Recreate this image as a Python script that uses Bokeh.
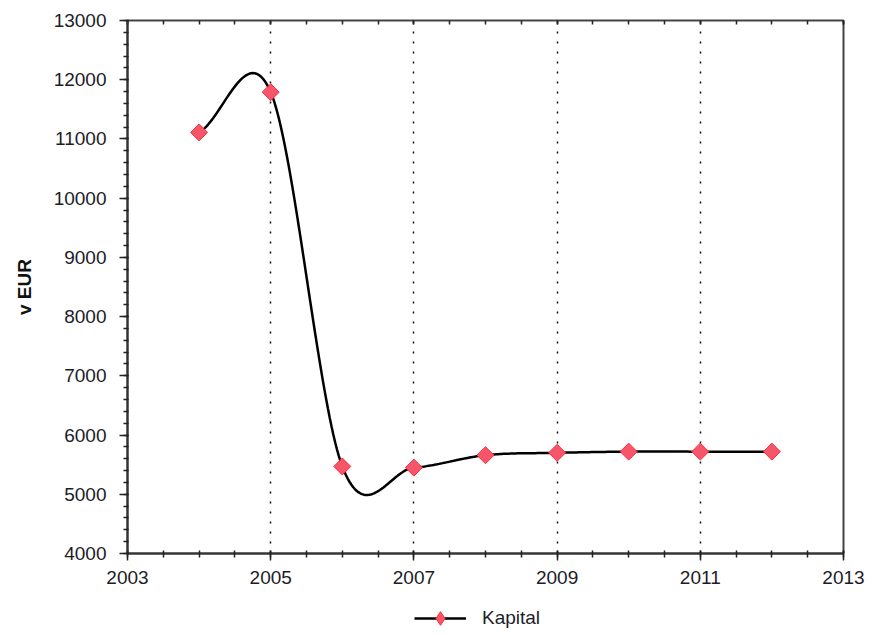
import numpy as np
from bokeh.plotting import figure
from bokeh.layouts import column
from bokeh.models import (FixedTicker, SingleIntervalTicker, LinearAxis, Legend, LegendItem,
                          Range1d, ColumnDataSource)
from bokeh.embed import file_html
from bokeh.resources import INLINE

# ---- data ----
years = [2004, 2005, 2006, 2007, 2008, 2009, 2010, 2011, 2012]
kapital = [11110, 11790, 5470, 5450, 5660, 5700, 5720, 5720, 5720]
x_tick_labels = [2003, 2005, 2007, 2009, 2011, 2013]
series_name = "Kapital"
y_label = "v EUR"


def catmull_rom(xs, ys, n=40):
    xs = np.asarray(xs, float)
    ys = np.asarray(ys, float)
    m = np.zeros_like(ys)
    m[1:-1] = (ys[2:] - ys[:-2]) / 2.0
    m[0] = ys[1] - ys[0]
    m[-1] = ys[-1] - ys[-2]
    out_x, out_y = [], []
    for i in range(len(xs) - 1):
        t = np.linspace(0, 1, n, endpoint=(i == len(xs) - 2))
        h00 = 2 * t**3 - 3 * t**2 + 1
        h10 = t**3 - 2 * t**2 + t
        h01 = -2 * t**3 + 3 * t**2
        h11 = t**3 - t**2
        out_x.extend(xs[i] + t * (xs[i + 1] - xs[i]))
        out_y.extend(h00 * ys[i] + h10 * m[i] + h01 * ys[i + 1] + h11 * m[i + 1])
    return out_x, out_y


cx, cy = catmull_rom(years, kapital)

FONT = "Liberation Sans"
TXT = "#1c1c28"
LINE_W = 2.5
MK_FILL = "#f5566a"
MK_LINE = "#ff2a3c"

p = figure(width=866, height=594, output_backend="svg", toolbar_location=None,
           x_range=Range1d(2003, 2013), y_range=Range1d(4000, 13000),
           min_border_left=127, min_border_right=23, min_border_top=20, min_border_bottom=41,
           background_fill_color="white", border_fill_color="white")

p.outline_line_color = "#444444"
p.outline_line_width = 2

minor_x = list(np.arange(2003, 2013.01, 0.5))
xt = FixedTicker(ticks=x_tick_labels, minor_ticks=minor_x)
yt = SingleIntervalTicker(interval=1000, num_minor_ticks=5)

xa = p.xaxis[0]
xa.ticker = xt
xa.axis_line_color = "#333333"
xa.axis_line_width = 2
xa.major_tick_line_color = "#222222"
xa.minor_tick_line_color = "#222222"
xa.major_tick_line_width = 1.5
xa.minor_tick_line_width = 1.5
xa.major_tick_in = 3
xa.major_tick_out = 7
xa.minor_tick_in = 3
xa.minor_tick_out = 4
xa.major_label_standoff = 10
xa.major_label_text_font = FONT
xa.major_label_text_font_size = "19px"
xa.major_label_text_color = TXT

ya = p.yaxis[0]
ya.ticker = yt
ya.axis_line_color = "#333333"
ya.axis_line_width = 2
ya.major_tick_line_color = "#222222"
ya.minor_tick_line_color = "#222222"
ya.major_tick_line_width = 1.5
ya.minor_tick_line_width = 1.5
ya.major_tick_in = 1
ya.major_tick_out = 8
ya.minor_tick_in = 1
ya.minor_tick_out = 4
ya.major_label_standoff = 13
ya.major_label_text_font = FONT
ya.major_label_text_font_size = "19px"
ya.major_label_text_color = TXT
ya.axis_label = y_label
ya.axis_label_text_font = FONT
ya.axis_label_text_font_size = "19px"
ya.axis_label_text_font_style = "bold"
ya.axis_label_text_color = "#111111"
ya.axis_label_standoff = 16

top = LinearAxis(ticker=xt, major_label_text_font_size="0px", axis_line_color=None,
                 major_tick_in=4, major_tick_out=0, minor_tick_in=4, minor_tick_out=0,
                 major_tick_line_color="#222222", minor_tick_line_color="#222222",
                 major_tick_line_width=1.5, minor_tick_line_width=1.5, major_label_standoff=0)
p.add_layout(top, "above")

p.xgrid.ticker = xt
p.xgrid.grid_line_color = "#111111"
p.xgrid.grid_line_dash = "2 8"
p.xgrid.grid_line_width = 1.5
p.ygrid.grid_line_color = None

src = ColumnDataSource(dict(x=years, y=kapital))
p.line(cx, cy, line_color="black", line_width=LINE_W)
p.scatter("x", "y", source=src, marker="square", size=12, angle=np.pi / 4,
          fill_color=MK_FILL, line_color=MK_LINE, line_width=1)

# ---- legend strip below the chart (key glyphs reuse the series' first point,
#      which lies outside this strip's ranges, so only the legend key shows) ----
lg = figure(width=866, height=41, output_backend="svg", toolbar_location=None,
            x_range=Range1d(0, 1), y_range=Range1d(0, 1),
            x_axis_location=None, y_axis_location=None,
            min_border_left=127, min_border_right=23, min_border_top=0, min_border_bottom=0,
            background_fill_color="white", border_fill_color="white")
lg.outline_line_color = None
lg.xgrid.grid_line_color = None
lg.ygrid.grid_line_color = None
key_src = ColumnDataSource(dict(x=years[:2], y=kapital[:2]))
k_ln = lg.line("x", "y", source=key_src, line_color="black", line_width=LINE_W)
k_mk = lg.scatter("x", "y", source=key_src, marker="diamond", size=12,
                  fill_color=MK_FILL, line_color=MK_LINE, line_width=1)

legend = Legend(items=[LegendItem(label=series_name, renderers=[k_ln, k_mk])],
                location="bottom_center", orientation="horizontal",
                glyph_width=52, glyph_height=34, label_standoff=16,
                label_width=74, label_height=30,
                padding=0, margin=0, spacing=0,
                border_line_color=None, background_fill_alpha=0,
                label_text_font=FONT, label_text_font_size="19px", label_text_color=TXT)
lg.add_layout(legend, "center")

layout = column(p, lg, spacing=0)
open("out.html", "w").write(file_html(layout, INLINE))
